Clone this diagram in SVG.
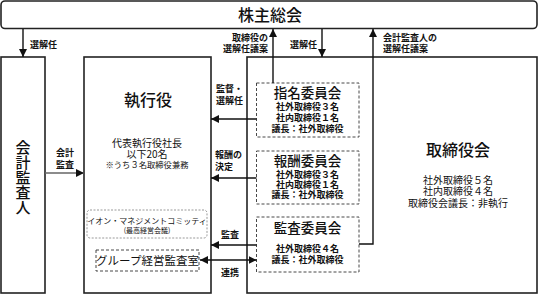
<svg xmlns="http://www.w3.org/2000/svg" width="539" height="296" viewBox="0 0 539 296">
<style>
text{font-family:"Noto Sans CJK JP","Noto Sans",sans-serif;fill:#111;}
.box{fill:#fff;stroke:#222;stroke-width:1.6;}
.dash{fill:#fff;stroke:#333;stroke-width:0.9;stroke-dasharray:3 2;}
.dot{fill:#fff;stroke:#999;stroke-width:1;stroke-dasharray:2 1.5;}
.ln{fill:none;stroke:#111;stroke-width:1.4;}
.gl{fill:none;stroke:#666;stroke-width:1.4;}
.t1{font-size:16px;font-weight:500;}
.t2{font-size:13.5px;font-weight:500;}
.s{font-size:9px;font-weight:bold;}
.m{font-size:10px;}
.c{text-anchor:middle;}
</style>
<defs>
<marker id="ah" viewBox="0 0 10 10" refX="10" refY="5" markerWidth="8" markerHeight="8" markerUnits="userSpaceOnUse" orient="auto-start-reverse">
<path d="M0,0 L10,5 L0,10 z" fill="#111"/>
</marker>
</defs>

<g id="shareholders">
<rect class="box" x="1" y="1" width="536" height="27.5" rx="4"/>
<text class="t1 c" x="270" y="20.5">株主総会</text>
</g>

<g id="auditor">
<rect class="box" x="1" y="57" width="44" height="236"/>
<text x="23" y="139.5" style="font-size:15px;font-weight:500;writing-mode:vertical-rl;">会計監査人</text>
</g>

<g id="executive">
<rect class="box" x="84" y="57" width="127" height="236"/>
<text class="t1 c" x="148" y="106">執行役</text>
<text class="m c" x="147" y="147">代表執行役社長<tspan x="147" dy="11">以下20名</tspan><tspan x="147" dy="10" style="font-size:8.3px">※うち３名取締役兼務</tspan></text>
</g>

<g id="aeon-committee">
<rect class="dot" x="87" y="210" width="120" height="28" rx="3"/>
<text class="c" x="147" y="224" style="font-size:8px">イオン・マネジメントコミッティ<tspan x="147" dy="9" style="font-size:7px">(最高経営会議)</tspan></text>
</g>

<g id="group-audit">
<rect class="dash" x="96" y="250" width="103" height="21"/>
<text class="c" x="147.5" y="264.5" style="font-size:11.5px">グループ経営監査室</text>
</g>

<g id="board">
<rect class="box" x="247" y="57" width="290" height="236"/>
<text class="t1 c" x="458" y="156">取締役会</text>
<text class="m c" x="458" y="184">社外取締役５名<tspan x="458" dy="11">社内取締役４名</tspan><tspan x="458" dy="12">取締役会議長：非執行</tspan></text>
</g>

<g id="nomination">
<rect class="dash" x="256.5" y="83" width="102.5" height="54"/>
<text class="t2 c" x="307.5" y="98">指名委員会</text>
<text class="s c" x="307.5" y="110">社外取締役３名<tspan x="307.5" dy="11">社内取締役１名</tspan><tspan x="307.5" dy="11">議長：社外取締役</tspan></text>
</g>

<g id="compensation">
<rect class="dash" x="256.5" y="151" width="102.5" height="53"/>
<text class="t2 c" x="307.5" y="166">報酬委員会</text>
<text class="s c" x="307.5" y="178">社外取締役３名<tspan x="307.5" dy="10">社内取締役１名</tspan><tspan x="307.5" dy="10">議長：社外取締役</tspan></text>
</g>

<g id="audit">
<rect class="dash" x="256.5" y="217" width="102.5" height="55"/>
<text class="t2 c" x="307.5" y="233">監査委員会</text>
<text class="s c" x="307.5" y="251.5">社外取締役４名<tspan x="307.5" dy="11">議長：社外取締役</tspan></text>
</g>

<g id="connectors">
<line class="ln" x1="23" y1="29" x2="23" y2="57" marker-end="url(#ah)"/>
<text class="s" x="30" y="48">選解任</text>

<line class="ln" x1="322" y1="29" x2="322" y2="57" marker-end="url(#ah)"/>
<text class="s" x="290" y="48">選解任</text>

<line class="ln" x1="273" y1="83" x2="273" y2="29" marker-end="url(#ah)"/>
<text class="s" x="268" y="41" text-anchor="end">取締役の<tspan x="268" dy="11">選解任議案</tspan></text>

<polyline class="ln" points="359,244 373,244 373,29" marker-end="url(#ah)"/>
<text class="s" x="383" y="41">会計監査人の<tspan x="383" dy="11">選解任議案</tspan></text>

<line class="gl" x1="45" y1="173" x2="84" y2="173" marker-end="url(#ah)"/>
<text class="s c" x="65" y="156">会計<tspan x="65" dy="12">監査</tspan></text>

<line class="ln" x1="256.5" y1="119" x2="211" y2="119" marker-end="url(#ah)"/>
<text class="s" x="216" y="92">監督・<tspan x="216" dy="12">選解任</tspan></text>

<line class="ln" x1="256.5" y1="178" x2="211" y2="178" marker-end="url(#ah)"/>
<text class="s" x="215" y="158">報酬の<tspan x="215" dy="12">決定</tspan></text>

<line class="ln" x1="256.5" y1="245" x2="211" y2="245" marker-end="url(#ah)"/>
<text class="s" x="221" y="238">監査</text>

<line class="ln" x1="200" y1="260" x2="256.5" y2="260" marker-start="url(#ah)" marker-end="url(#ah)"/>
<text class="s" x="221" y="276">連携</text>
</g>
</svg>
